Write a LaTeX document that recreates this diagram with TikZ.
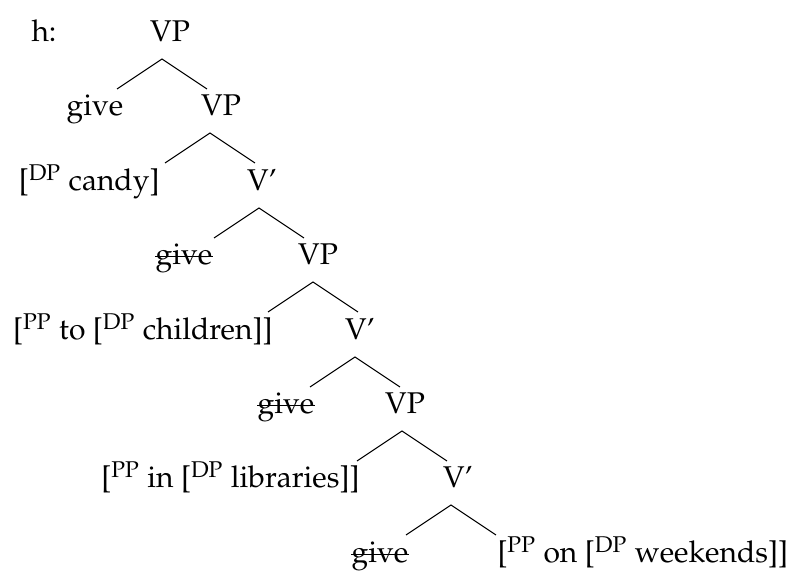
\documentclass[tikz,border=0pt]{standalone}
\usepackage[T1]{fontenc}
\usepackage{mathpazo}
\begin{document}
\begin{tikzpicture}[x=0.5pt, y=-0.5pt, line width=0.5pt,
  lbl/.style={inner sep=0pt, anchor=base, font=\fontsize{15}{18}\selectfont}]
\useasboundingbox (0,0) rectangle (800,582);
% labels, row by row
\node[lbl] (h) at (44,42) {h:};
\node[lbl] (vp0) at (170,42) {VP};
\node[lbl] (give0) at (95,116) {give};
\node[lbl] (vp1) at (221,116) {VP};
\node[lbl, anchor=base east] (candy) at (160,191) {[\textsuperscript{DP} candy]};
\node[lbl] (vbar1) at (262,191) {V'};
\node[lbl] (give1) at (184,265) {give};
\node[lbl] (vp2) at (318,265) {VP};
\node[lbl, anchor=base east] (children) at (273,340) {[\textsuperscript{PP} to [\textsuperscript{DP} children]]};
\node[lbl] (vbar2) at (360,340) {V'};
\node[lbl] (give2) at (286,414) {give};
\node[lbl] (vp3) at (405,414) {VP};
\node[lbl, anchor=base east] (libraries) at (360,488) {[\textsuperscript{PP} in [\textsuperscript{DP} libraries]]};
\node[lbl] (vbar3) at (458,488) {V'};
\node[lbl] (give3) at (380,563) {give};
\node[lbl, anchor=base west] (weekends) at (497,563) {[\textsuperscript{PP} on [\textsuperscript{DP} weekends]]};
% strike-through on the copies
\foreach \g in {give1, give2, give3}
  \draw ([yshift=4.1pt]\g.base west) -- ([yshift=4.1pt]\g.base east);
% branches
\foreach \x/\y [count=\i] in {162/59, 210/133, 259/208, 313/282, 355/357, 402/431, 451/505}
  {\coordinate (top\i) at (\x,\y);
   \draw (top\i) ++(-45,30) coordinate (l\i) -- (top\i) -- ++(45,30) coordinate (r\i);}
\end{tikzpicture}
\end{document}
